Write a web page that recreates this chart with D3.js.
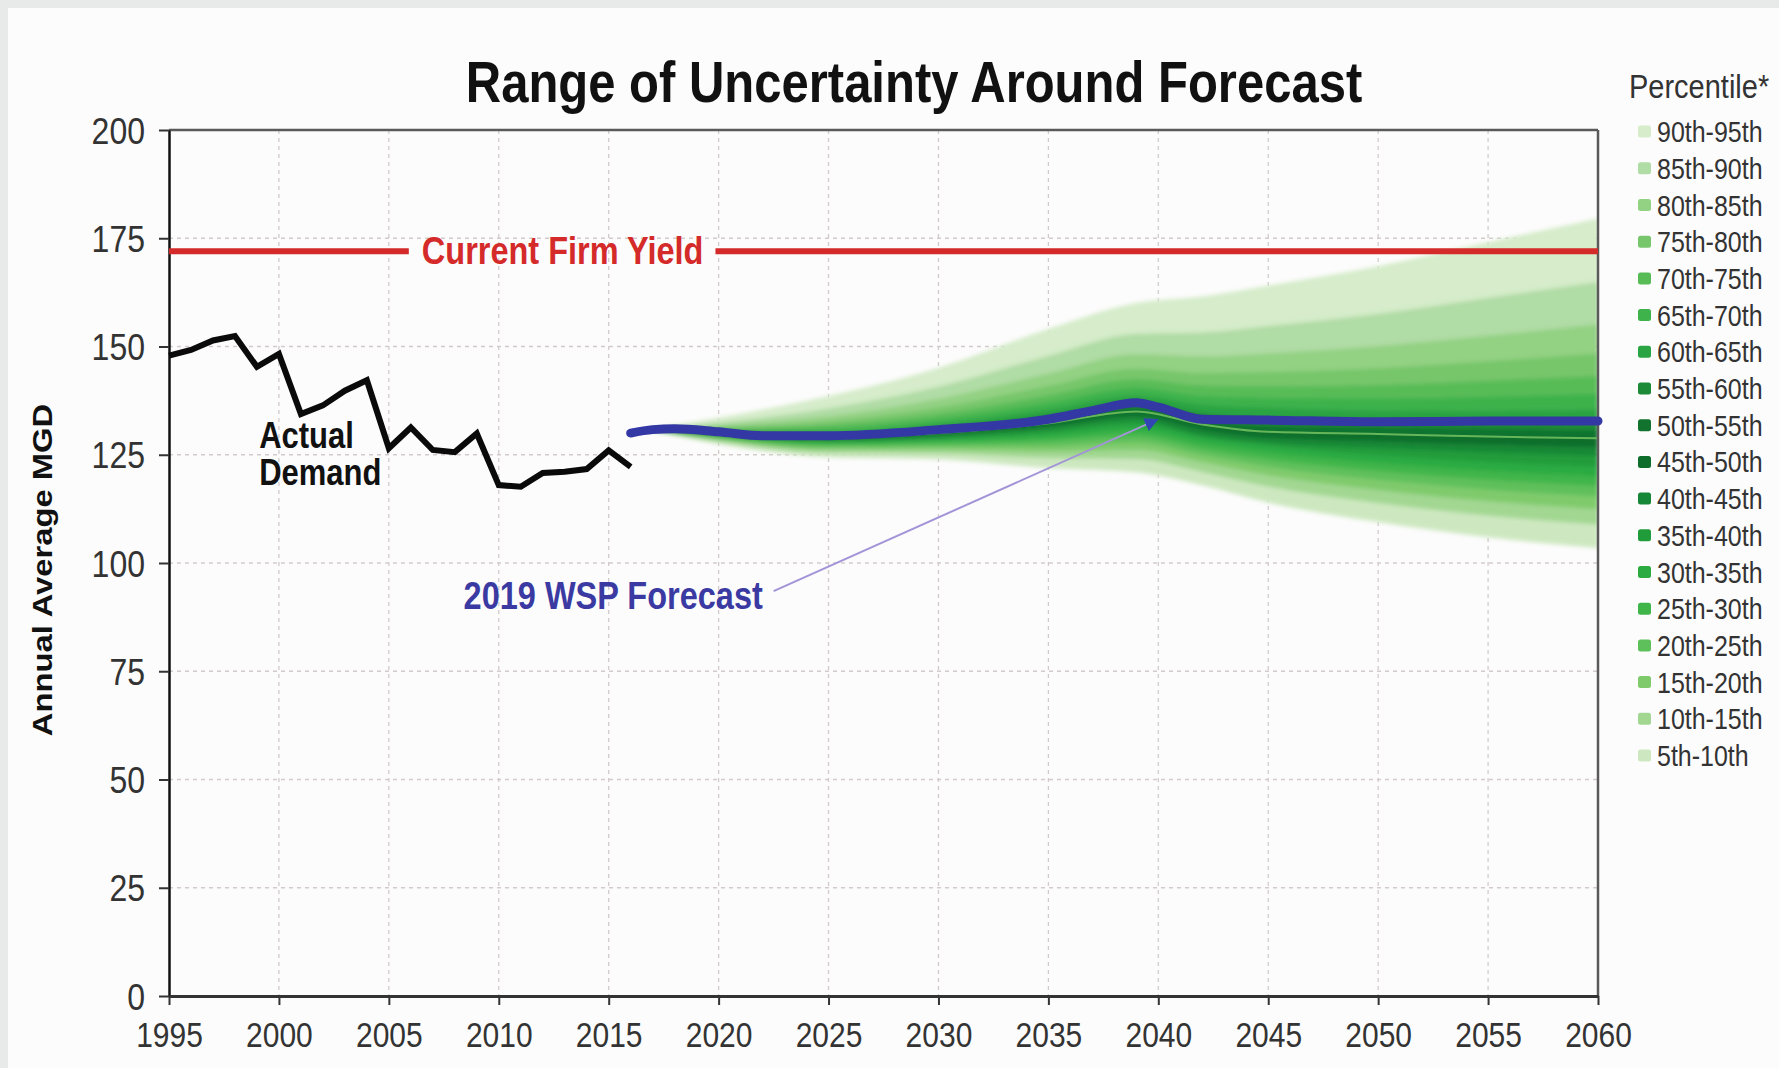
<!DOCTYPE html>
<html><head><meta charset="utf-8">
<script src="https://cdn.jsdelivr.net/npm/d3@7"></script>
<style>
html,body{margin:0;padding:0;background:#e8eaea;}
svg{display:block;}
text{font-family:"Liberation Sans",Arial,Helvetica,sans-serif;}
</style>
</head><body>
<svg id="chart" width="1779" height="1068"></svg>
<script>
// ---------------- DATA ----------------
const actualYears  = [1995,1996,1997,1998,1999,2000,2001,2002,2003,2004,2005,2006,2007,2008,2009,2010,2011,2012,2013,2014,2015,2016];
const actualDemand = [147.9,149.2,151.4,152.4,145.3,148.3,134.4,136.4,139.8,142.2,126.5,131.3,126.1,125.6,129.9,118.0,117.6,120.8,121.1,121.7,126.0,122.2];

const wspYears    = [2016,2017,2018,2020,2022,2025,2030,2035,2037,2039,2040,2042,2045,2050,2055,2060];
const wspForecast = [130.0,130.8,131.0,130.3,129.4,129.4,130.8,133.2,135.2,137.0,136.0,133.2,133.0,132.6,132.8,132.8];

const fanYears = [2017,2020,2025,2030,2035,2039,2042,2045,2050,2055,2060];
const pct05 = [130.6,127.5,124.5,124.0,122.0,121.0,118.0,114.0,109.5,106.0,103.5];
const pct10 = [130.6,128.1,125.5,125.3,124.3,124.1,121.1,117.7,113.9,111.0,108.9];
const pct15 = [130.7,128.4,126.2,126.2,125.8,126.2,123.3,120.3,116.9,114.3,112.5];
const pct20 = [130.7,128.7,126.7,126.9,127.0,127.9,125.0,122.3,119.3,117.0,115.4];
const pct25 = [130.7,129.0,127.2,127.5,128.1,129.3,126.4,124.0,121.3,119.3,117.8];
const pct30 = [130.7,129.2,127.6,128.1,129.0,130.5,127.7,125.6,123.1,121.3,120.0];
const pct35 = [130.8,129.4,128.0,128.6,129.9,131.8,129.0,127.1,124.9,123.3,122.2];
const pct40 = [130.8,129.6,128.3,129.1,130.8,132.9,129.5,127.8,126.6,125.6,124.8];
const pct45 = [130.8,129.8,128.7,129.6,131.5,134.0,130.8,129.0,128.2,127.4,126.8];
const pct50 = [130.8,130.0,129.0,130.0,132.3,135.0,132.0,130.3,129.8,129.2,128.8];
const pct55 = [130.8,130.1,129.4,130.6,133.2,136.0,133.3,131.8,131.5,131.1,130.8];
const pct60 = [130.8,130.3,129.9,131.4,134.3,137.3,134.7,133.6,133.4,133.2,133.0];
const pct65 = [130.8,130.5,130.4,132.3,135.6,138.8,136.7,136.0,135.4,135.3,135.6];
const pct70 = [130.9,130.8,131.1,133.3,137.1,140.5,138.7,138.3,138.1,138.5,139.2];
const pct75 = [130.9,131.1,131.9,134.5,138.8,142.5,141.1,140.9,141.2,142.2,143.3];
const pct80 = [130.9,131.4,132.8,136.0,141.0,145.0,144.0,144.2,145.1,146.7,148.5];
const pct85 = [130.9,131.9,134.0,138.0,143.8,148.3,147.8,148.5,150.2,152.6,155.2];
const pct90 = [130.9,132.5,135.8,140.8,147.9,153.0,153.3,154.8,157.6,161.3,165.0];
const pct95 = [131.0,133.5,138.5,145.0,154.0,160.0,161.5,164.0,168.5,174.0,179.5];
const percentileSeries = [pct05,pct10,pct15,pct20,pct25,pct30,pct35,pct40,pct45,pct50,pct55,pct60,pct65,pct70,pct75,pct80,pct85,pct90,pct95];

const bandLabels = ["5th-10th","10th-15th","15th-20th","20th-25th","25th-30th","30th-35th","35th-40th","40th-45th","45th-50th",
                    "50th-55th","55th-60th","60th-65th","65th-70th","70th-75th","75th-80th","80th-85th","85th-90th","90th-95th"];
const bandColors = ["#cde8c0","#a2d792","#7fcb6c","#5ec05a","#3fb54a","#2cab42","#209c3b","#168736","#0e6d2b",
                    "#11732d","#1c8a37","#2ba443","#3eb24b","#58bc56","#77c66b","#93d183","#b0dca5","#d6ecca"];

const firmYield = 172;
const xTicks = [1995,2000,2005,2010,2015,2020,2025,2030,2035,2040,2045,2050,2055,2060];
const yTicks = [0,25,50,75,100,125,150,175,200];

// ---------------- LAYOUT ----------------
const SY = 1.17; // vertical stretch of the reference's text
const svg = d3.select("#chart");
const X0 = 169, X1 = 1598, Y0 = 996, Y1 = 130;
const x = d3.scaleLinear().domain([1995,2060]).range([X0,X1]);
const y = d3.scaleLinear().domain([0,200]).range([Y0,Y1]);

svg.append("rect").attr("x",8).attr("y",8).attr("width",1779-8).attr("height",1068-8).attr("fill","#fcfcfc");

function stext(g, tx, ty, str, size, opts={}) {
  return g.append("text")
    .attr("transform", `translate(${tx},${ty}) scale(1,${SY})`)
    .attr("font-size", size)
    .attr("font-weight", opts.bold ? "bold" : "normal")
    .attr("fill", opts.fill || "#222")
    .attr("text-anchor", opts.anchor || "start")
    .text(str);
}

// defs
const defs = svg.append("defs");
defs.append("clipPath").attr("id","plotClip").append("rect")
  .attr("x",X0).attr("y",Y1).attr("width",X1-X0).attr("height",Y0-Y1);
const blur = defs.append("filter").attr("id","soft").attr("x","-5%").attr("y","-20%").attr("width","110%").attr("height","140%");
blur.append("feGaussianBlur").attr("stdDeviation",2.2);
defs.append("marker").attr("id","arrow").attr("viewBox","0 0 10 10").attr("refX",8).attr("refY",5)
  .attr("markerWidth",7).attr("markerHeight",7).attr("orient","auto-start-reverse")
  .append("path").attr("d","M0,0 L10,5 L0,10 z").attr("fill","#3146b4");

// grid
const grid = svg.append("g");
grid.selectAll("line.v").data(xTicks.filter(t => t > 1995 && t < 2060)).join("line")
  .attr("x1", d => x(d)).attr("x2", d => x(d)).attr("y1", Y1).attr("y2", Y0)
  .attr("stroke","#d3cbcb").attr("stroke-width",1.3).attr("stroke-dasharray","4,4");
grid.selectAll("line.h").data(yTicks.filter(t => t > 0 && t < 200)).join("line")
  .attr("x1", X0).attr("x2", X1).attr("y1", d => y(d)).attr("y2", d => y(d))
  .attr("stroke","#d3cbcb").attr("stroke-width",1.3).attr("stroke-dasharray","4,4");

// fan
const fanOuter = svg.append("g").attr("clip-path","url(#plotClip)");
const fan = fanOuter.append("g").attr("filter","url(#soft)");
for (let i = 0; i < percentileSeries.length - 1; i++) {
  const lo = percentileSeries[i], hi = percentileSeries[i+1];
  const area = d3.area()
    .x((d,j) => x(fanYears[j]))
    .y0((d,j) => y(lo[j]))
    .y1((d,j) => y(hi[j]))
    .curve(d3.curveMonotoneX);
  fan.append("path").datum(fanYears).attr("d", area).attr("fill", bandColors[i]).attr("stroke", bandColors[i]).attr("stroke-width",0.6);
}
// median highlight line
fanOuter.append("path").datum(fanYears)
  .attr("d", d3.line().x((d,j) => x(fanYears[j])).y((d,j) => y(pct50[j])).curve(d3.curveMonotoneX))
  .attr("fill","none").attr("stroke","#7cc865").attr("stroke-width",2).attr("opacity",0.8);

// plot border (top/right)
svg.append("line").attr("x1",X0).attr("x2",X1).attr("y1",Y1).attr("y2",Y1).attr("stroke","#5a5a5a").attr("stroke-width",2.5);
svg.append("line").attr("x1",X1).attr("x2",X1).attr("y1",Y1).attr("y2",Y0).attr("stroke","#5a5a5a").attr("stroke-width",2.5);

// axes
const yAxis = svg.append("g").attr("transform",`translate(${X0},0)`)
  .call(d3.axisLeft(y).tickValues(yTicks).tickSize(10).tickSizeOuter(0));
yAxis.select(".domain").attr("stroke","#111").attr("stroke-width",2.5);
yAxis.selectAll(".tick line").attr("stroke","#333").attr("stroke-width",2);
yAxis.selectAll(".tick text").attr("x",null).attr("dy",null).attr("y",null)
  .attr("transform",`translate(-24,13) scale(1,${SY})`)
  .attr("font-size",32).attr("fill","#333").attr("font-family",null);

const xAxis = svg.append("g").attr("transform",`translate(0,${Y0})`)
  .call(d3.axisBottom(x).tickValues(xTicks).tickFormat(d3.format("d")).tickSize(9).tickSizeOuter(0));
xAxis.select(".domain").attr("stroke","#333").attr("stroke-width",3);
xAxis.selectAll(".tick line").attr("stroke","#333").attr("stroke-width",2);
xAxis.selectAll(".tick text").attr("y",null).attr("dy",null)
  .attr("transform",`translate(0,51) scale(1,${SY})`)
  .attr("font-size",30).attr("fill","#333").attr("font-family",null);

// firm yield line with label gap
const fy = svg.append("g");
const fyLabel = stext(fy, x(2006.5), y(firmYield) + 13, "Current Firm Yield", 32.5, {bold:true, fill:"#d42a2a"});
const bb = fyLabel.node().getBBox();
const lx0 = x(2006.5) - 13, lx1 = x(2006.5) + bb.width + 12;
fy.append("line").attr("x1",X0).attr("x2",lx0).attr("y1",y(firmYield)).attr("y2",y(firmYield)).attr("stroke","#d42a2a").attr("stroke-width",6);
fy.append("line").attr("x1",lx1).attr("x2",X1).attr("y1",y(firmYield)).attr("y2",y(firmYield)).attr("stroke","#d42a2a").attr("stroke-width",6);

// actual demand
svg.append("path").datum(actualDemand)
  .attr("d", d3.line().x((d,i) => x(actualYears[i])).y(d => y(d)))
  .attr("fill","none").attr("stroke","#0a0a0a").attr("stroke-width",6).attr("stroke-linejoin","miter");
stext(svg, x(1999.1), y(126.5), "Actual", 31, {bold:true, fill:"#111"});
stext(svg, x(1999.1), y(117.9), "Demand", 31, {bold:true, fill:"#111"});

// WSP forecast line
svg.append("path").datum(wspForecast)
  .attr("d", d3.line().x((d,i) => x(wspYears[i])).y(d => y(d)).curve(d3.curveMonotoneX))
  .attr("fill","none").attr("stroke","#3438a4").attr("stroke-width",9).attr("stroke-linecap","round");

// callout
svg.append("line").attr("x1",x(2022.5)).attr("y1",y(93.5)).attr("x2",x(2039.9)).attr("y2",y(133.0))
  .attr("stroke","#a394d8").attr("stroke-width",2).attr("marker-end","url(#arrow)");
stext(svg, x(2008.4), y(89.3), "2019 WSP Forecast", 32.5, {bold:true, fill:"#3a3aa2"});

// title
stext(svg, 914, 102, "Range of Uncertainty Around Forecast", 49, {bold:true, fill:"#111", anchor:"middle"});

// y axis title
svg.append("text")
  .attr("transform",`translate(52,570) rotate(-90) scale(${SY},1)`)
  .attr("font-size",28).attr("font-weight","bold").attr("fill","#111").attr("text-anchor","middle")
  .text("Annual Average MGD");

// legend
const leg = svg.append("g");
stext(leg, 1629, 98, "Percentile*", 29, {fill:"#333"});
const legendOrder = d3.range(bandLabels.length).reverse();
legendOrder.forEach((bi, k) => {
  const cy = 131.6 + k * 36.7;
  leg.append("rect").attr("x",1638).attr("y",cy-6).attr("width",13).attr("height",12).attr("rx",2.5)
    .attr("fill", bandColors[bi]);
  stext(leg, 1657, cy + 10.5, bandLabels[bi], 25, {fill:"#333"});
});
</script>
</body></html>
